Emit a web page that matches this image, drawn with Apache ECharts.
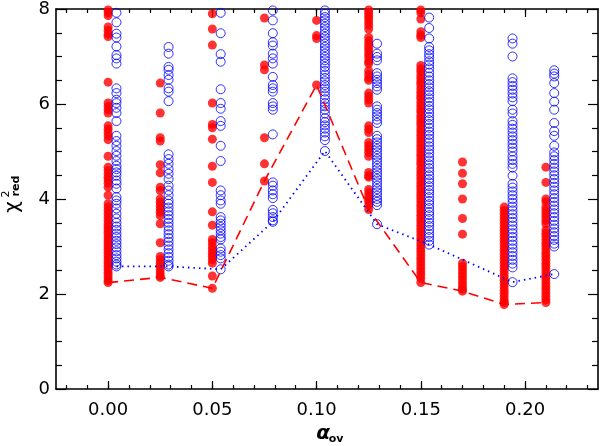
<!DOCTYPE html>
<html>
<head>
<meta charset="utf-8">
<script src="https://cdn.jsdelivr.net/npm/echarts@6/dist/echarts.min.js"></script>
<style>
  html, body { margin: 0; padding: 0; background: #fff; }
  #chart { width: 600px; height: 446px; }
</style>
</head>
<body>
<div id="chart"></div>
<script>
// red: filled circles, one list of chi2_red per alpha_ov
const redAlphas = [0.000, 0.025, 0.050, 0.075, 0.100, 0.125, 0.150, 0.170, 0.190, 0.210]
const redChi2 = [
  [7.98, 7.92, 7.86, 7.62, 7.55, 7.47, 7.42, 6.46, 6.02, 5.95, 5.88, 5.81, 5.54, 5.47, 5.40, 5.33, 5.25, 4.90,
   4.67, 4.60, 4.53, 4.46, 4.40, 4.33, 4.25, 4.08, 3.90, 3.83, 3.76, 3.69, 3.62, 3.55, 3.48, 3.42, 3.36, 3.30,
   3.24, 3.18, 3.12, 3.06, 3.00, 2.94, 2.88, 2.82, 2.76, 2.70, 2.64, 2.58, 2.52, 2.46, 2.40, 2.34, 2.28, 2.24],
  [6.44, 5.81, 5.29, 5.22, 4.72, 4.55, 4.25, 4.18, 4.00, 3.93, 3.86, 3.79, 3.72, 3.65, 3.48, 3.08, 2.79, 2.72,
   2.65, 2.58, 2.51, 2.44, 2.38, 2.35],
  [7.90, 7.58, 7.24, 6.02, 5.57, 5.50, 5.26, 4.69, 4.35, 3.73, 3.45, 3.15, 3.08, 3.00, 2.93, 2.86, 2.79, 2.72,
   2.65, 2.38, 2.12],
  [7.81, 6.82, 6.72, 5.29, 4.74, 4.38],
  [7.76, 7.44, 7.38, 6.40],
  [7.98, 7.92, 7.86, 7.80, 7.73, 7.66, 7.58, 7.40, 7.33, 7.26, 7.19, 7.12, 7.05, 6.98, 6.90, 6.85, 6.70, 6.62,
   6.55, 6.50, 6.23, 6.16, 6.09, 6.02, 5.54, 5.47, 5.40, 5.19, 5.12, 5.05, 4.98, 4.90, 4.56, 4.49, 4.46, 4.20,
   4.13, 4.06, 4.00, 3.95, 3.87, 3.78],
  [7.98, 7.92, 7.79, 7.52, 7.45, 7.40, 6.81, 6.74, 6.68, 6.60, 6.53, 6.46, 6.40, 6.32, 6.25, 6.18, 6.12, 6.04,
   5.97, 5.90, 5.84, 5.76, 5.69, 5.62, 5.56, 5.48, 5.41, 5.34, 5.27, 5.20, 5.13, 5.06, 4.99, 4.92, 4.85, 4.78,
   4.72, 4.64, 4.57, 4.50, 4.43, 4.36, 4.29, 4.22, 4.15, 4.08, 4.01, 3.94, 3.87, 3.80, 3.73, 3.66, 3.59, 3.52,
   3.45, 3.38, 3.31, 3.24, 3.17, 3.10, 3.03, 2.96, 2.89, 2.82, 2.75, 2.68, 2.61, 2.54, 2.47, 2.40, 2.33, 2.24],
  [4.78, 4.54, 4.32, 4.00, 3.59, 3.26, 2.65, 2.58, 2.51, 2.44, 2.37, 2.30, 2.23, 2.16, 2.10, 2.06],
  [3.83, 3.76, 3.69, 3.62, 3.55, 3.48, 3.41, 3.34, 3.27, 3.20, 3.13, 3.06, 2.99, 2.92, 2.85, 2.78, 2.71, 2.64,
   2.57, 2.50, 2.43, 2.36, 2.29, 2.22, 2.15, 2.08, 2.01, 1.94, 1.87, 1.82, 1.78],
  [4.67, 4.35, 4.00, 3.94, 3.83, 3.76, 3.69, 3.62, 3.55, 3.48, 3.35, 3.28, 3.21, 3.14, 3.07, 3.00, 2.93, 2.86,
   2.79, 2.72, 2.65, 2.58, 2.51, 2.44, 2.37, 2.30, 2.23, 2.16, 2.09, 2.02, 1.95, 1.88, 1.82]
]

// blue: open circles, plotted just right of the red ones
const blueAlphas = [0.004, 0.029, 0.054, 0.079, 0.104, 0.129, 0.154, 0.194, 0.214]
const blueChi2 = [
  [7.92, 7.72, 7.48, 7.40, 7.21, 7.03, 6.96, 6.85, 6.33, 6.23, 6.09, 6.02, 5.92, 5.81, 5.64, 5.33, 5.22, 5.12,
   5.01, 4.91, 4.80, 4.70, 4.63, 4.56, 4.49, 4.39, 4.32, 4.22, 4.04, 3.97, 3.90, 3.80, 3.69, 3.59, 3.50, 3.42,
   3.35, 3.27, 3.20, 3.12, 3.05, 2.98, 2.90, 2.82, 2.75, 2.68, 2.62, 2.58],
  [7.20, 7.06, 6.78, 6.72, 6.61, 6.51, 6.33, 6.26, 6.06, 4.94, 4.84, 4.74, 4.63, 4.53, 4.42, 4.28, 4.18, 4.08,
   3.97, 3.90, 3.82, 3.74, 3.66, 3.58, 3.50, 3.42, 3.34, 3.26, 3.18, 3.10, 3.02, 2.94, 2.86, 2.78, 2.70, 2.62,
   2.58],
  [7.92, 7.49, 7.05, 6.89, 6.31, 6.02, 5.90, 5.64, 5.54, 5.12, 4.80, 4.18, 4.08, 3.97, 3.90, 3.62, 3.55, 3.48,
   3.41, 3.34, 3.27, 3.20, 3.15, 2.96, 2.89, 2.82, 2.75, 2.52],
  [7.97, 7.76, 7.49, 7.30, 7.23, 7.06, 6.96, 6.85, 6.57, 6.40, 6.33, 6.26, 6.02, 5.95, 5.88, 5.36, 4.35, 4.28,
   4.18, 4.10, 4.02, 3.77, 3.70, 3.62, 3.55, 3.52],
  [7.97, 7.90, 7.83, 7.76, 7.69, 7.62, 7.55, 7.48, 7.41, 7.34, 7.27, 7.20, 7.13, 7.06, 6.99, 6.92, 6.85, 6.78,
   6.70, 6.62, 6.55, 6.48, 6.40, 6.33, 6.26, 6.18, 6.10, 6.02, 5.95, 5.88, 5.80, 5.70, 5.62, 5.55, 5.48, 5.40,
   5.32, 5.24, 5.01],
  [7.27, 7.06, 6.99, 6.92, 6.65, 6.58, 6.51, 6.44, 6.37, 6.30, 5.95, 5.88, 5.81, 5.74, 5.67, 5.60, 5.33, 5.26,
   5.19, 5.12, 5.05, 4.98, 4.91, 4.84, 4.77, 4.70, 4.63, 4.56, 4.49, 4.42, 4.35, 4.28, 4.21, 4.14, 4.07, 4.00,
   3.94, 3.87, 3.47],
  [7.82, 7.60, 7.38, 7.20, 7.13, 7.05, 6.98, 6.90, 6.83, 6.75, 6.66, 6.58, 6.50, 6.42, 6.35, 6.27, 6.20, 6.12,
   6.04, 5.96, 5.89, 5.81, 5.73, 5.66, 5.58, 5.50, 5.42, 5.35, 5.27, 5.19, 5.11, 5.04, 4.96, 4.88, 4.81, 4.73,
   4.65, 4.58, 4.50, 4.42, 4.35, 4.27, 4.19, 4.12, 4.04, 3.96, 3.89, 3.81, 3.73, 3.66, 3.58, 3.50, 3.43, 3.35,
   3.27, 3.20, 3.12, 3.04],
  [7.38, 7.27, 7.00, 6.54, 6.46, 6.38, 6.30, 6.22, 6.14, 6.06, 5.88, 5.80, 5.64, 5.56, 5.48, 5.40, 5.32, 5.24,
   5.16, 5.08, 5.00, 4.90, 4.82, 4.74, 4.66, 4.49, 4.32, 4.24, 4.16, 4.08, 4.00, 3.92, 3.84, 3.76, 3.68, 3.60,
   3.52, 3.44, 3.36, 3.28, 3.20, 3.12, 3.04, 2.96, 2.88, 2.80, 2.72, 2.64, 2.56, 2.25],
  [6.71, 6.64, 6.58, 6.44, 6.23, 6.05, 5.88, 5.60, 5.43, 5.33, 5.12, 4.98, 4.90, 4.82, 4.74, 4.66, 4.58, 4.50,
   4.42, 4.34, 4.26, 4.18, 4.10, 4.02, 3.94, 3.86, 3.78, 3.70, 3.62, 3.54, 3.46, 3.38, 3.30, 3.22, 3.14, 3.06,
   3.00, 2.42]
]

const xMajorTicks = [0.00, 0.05, 0.10, 0.15, 0.20]
const xMinorTicks = [-0.02, -0.01, 0.00, 0.01, 0.02, 0.03, 0.04, 0.05, 0.06, 0.07, 0.08, 0.09, 0.10, 0.11, 0.12,
  0.13, 0.14, 0.15, 0.16, 0.17, 0.18, 0.19, 0.20, 0.21, 0.22, 0.23]

function points(alphas, lists) {
  const out = []
  alphas.forEach((a, i) => lists[i].forEach(v => out.push([a, v])))
  return out
}

// the lines join the lowest chi2 of each model column
function minima(alphas, lists) {
  return alphas.map((a, i) => [a, Math.min(...lists[i])])
}

const font = 'DejaVu Sans'

function xAxis(position, ticks, len, showLine, showLabel) {
  return {
    type: 'value',
    position: position,
    min: -0.025,
    max: 0.235,
    axisLine: { show: showLine, onZero: false, lineStyle: { color: '#000', width: 1.6 } },
    axisTick: { show: true, inside: true, length: len, customValues: ticks, lineStyle: { color: '#000', width: 1.2 } },
    axisLabel: {
      show: showLabel,
      customValues: xMajorTicks,
      formatter: v => v.toFixed(2),
      margin: 12,
      color: '#000',
      fontSize: 18,
      fontFamily: font
    },
    splitLine: { show: false }
  }
}

function yAxis(position, showLabel) {
  return {
    type: 'value',
    position: position,
    min: 0,
    max: 8,
    interval: 2,
    axisLine: { show: true, onZero: false, lineStyle: { color: '#000', width: 1.6 } },
    axisTick: { show: true, inside: true, length: 10, lineStyle: { color: '#000', width: 1.2 } },
    minorTick: { show: true, splitNumber: 4, length: 6, lineStyle: { color: '#000', width: 1.2 } },
    axisLabel: { show: showLabel, margin: 6, color: '#000', fontSize: 18, fontFamily: font },
    splitLine: { show: false },
    minorSplitLine: { show: false }
  }
}

const chart = echarts.init(document.getElementById('chart'), null, { renderer: 'canvas' })

const option = {
  animation: false,
  backgroundColor: '#fff',
  grid: { left: 56, right: 2, top: 5, bottom: 57, containLabel: false },
  xAxis: [
    xAxis('bottom', xMajorTicks, 8, true, true),
    xAxis('bottom', xMinorTicks, 4, false, false),
    xAxis('top', xMajorTicks, 8, true, false),
    xAxis('top', xMinorTicks, 4, false, false)
  ],
  yAxis: [
    yAxis('left', true),
    yAxis('right', false)
  ],
  series: [
    {
      type: 'scatter',
      data: points(redAlphas, redChi2),
      symbol: 'circle',
      symbolSize: 9,
      itemStyle: { color: '#ff0000' },
      z: 2
    },
    {
      type: 'scatter',
      data: points(blueAlphas, blueChi2),
      symbol: 'circle',
      symbolSize: 9,
      itemStyle: { color: 'rgba(0,0,0,0)', borderColor: '#0000ff', borderWidth: 1 },
      z: 3
    },
    {
      type: 'line',
      data: minima(redAlphas, redChi2),
      showSymbol: false,
      symbol: 'none',
      lineStyle: { color: '#ff0000', width: 1.6, type: [10, 6] },
      z: 4
    },
    {
      type: 'line',
      data: minima(blueAlphas, blueChi2),
      showSymbol: false,
      symbol: 'none',
      lineStyle: { color: '#0000ff', width: 1.8, type: [1.5, 4] },
      z: 4
    }
  ],
  graphic: [
    // y title: chi^2_red, written upwards
    { type: 'text', x: 13, y: 207, rotation: Math.PI / 2,
      style: { text: 'χ', fontSize: 20, fontFamily: font, fill: '#000', textAlign: 'center', textVerticalAlign: 'middle' } },
    { type: 'text', x: 6, y: 194, rotation: Math.PI / 2,
      style: { text: '2', fontSize: 11, fontFamily: font, fill: '#000', textAlign: 'center', textVerticalAlign: 'middle' } },
    { type: 'text', x: 16, y: 186, rotation: Math.PI / 2,
      style: { text: 'red', fontSize: 11, fontWeight: 'bold', fontFamily: font, fill: '#000', textAlign: 'center', textVerticalAlign: 'middle' } },
    // x title: alpha_ov
    { type: 'text', x: 323, y: 434,
      style: { text: 'α', fontSize: 20, fontWeight: 'bold', fontStyle: 'italic', fontFamily: font, fill: '#000', textAlign: 'center', textVerticalAlign: 'middle' } },
    { type: 'text', x: 336, y: 439,
      style: { text: 'ov', fontSize: 11, fontWeight: 'bold', fontFamily: font, fill: '#000', textAlign: 'center', textVerticalAlign: 'middle' } }
  ]
}

chart.setOption(option)
</script>
</body>
</html>
